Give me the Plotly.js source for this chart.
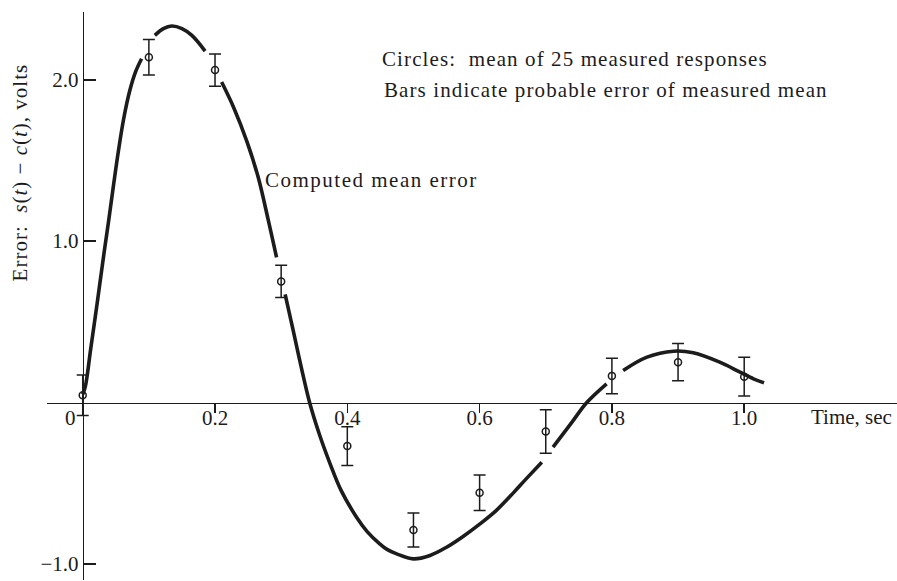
<!DOCTYPE html>
<html>
<head>
<meta charset="utf-8">
<script src="https://cdn.plot.ly/plotly-3.0.1.min.js"></script>
<style>
  html, body { margin: 0; padding: 0; background: #fff; }
  #chart { width: 897px; height: 581px; }
</style>
</head>
<body>
<div id="chart"></div>
<script>
// Computed mean error curve (null = break in the drawn line)
const curveT = [0, 0.004, 0.012, 0.022, 0.032, 0.04, 0.047, 0.054, 0.062, 0.071, 0.08, 0.089, null,
  0.109, 0.122, 0.1345, 0.15, 0.165, 0.185, null,
  0.21, 0.228, 0.248, 0.265, 0.28, 0.293, null,
  0.306, 0.318, 0.33, 0.343, 0.358, 0.374, 0.39, 0.414, 0.43, 0.449, 0.46, 0.4747, 0.4998, 0.525, 0.55,
  0.575, 0.6006, 0.625, 0.651, 0.67, 0.694, null,
  0.711, 0.74, 0.762, 0.792, null,
  0.817, 0.853, 0.893, 0.923, 0.963, 0.9937, 1.014, 1.03];
const curveV = [0.05, 0.10, 0.33, 0.62, 0.92, 1.15, 1.36, 1.56, 1.76, 1.93, 2.05, 2.13, null,
  2.275, 2.317, 2.333, 2.317, 2.275, 2.178, null,
  1.986, 1.83, 1.62, 1.40, 1.14, 0.90, null,
  0.67, 0.45, 0.225, 0, -0.2, -0.38, -0.54, -0.711, -0.80, -0.876, -0.91, -0.938, -0.969, -0.948, -0.897,
  -0.83, -0.752, -0.67, -0.56, -0.475, -0.37, null,
  -0.277, -0.12, 0, 0.116, null,
  0.198, 0.281, 0.318, 0.308, 0.25, 0.188, 0.147, 0.122];

// Measured means (25 responses) and probable error of each mean
const measT = [0, 0.1, 0.2, 0.3, 0.4, 0.5, 0.6, 0.7, 0.8, 0.9, 1.0];
const measV = [0.045, 2.14, 2.06, 0.75, -0.27, -0.79, -0.56, -0.18, 0.165, 0.25, 0.16];
const measErr = [0.125, 0.11, 0.10, 0.10, 0.12, 0.105, 0.11, 0.135, 0.11, 0.115, 0.12];

// Axis ticks
const xTickVals = [0.2, 0.4, 0.6, 0.8, 1.0];
const xTickText = ['0.2', '0.4', '0.6', '0.8', '1.0'];
const yTickVals = [-1, 1, 2];
const yTickText = ['\u22121.0', '1.0', '2.0'];

const ink = '#1c1c1c';
const serif = 'Liberation Serif, Times New Roman, serif';
const xRange = [-0.054, 1.231];
const yRange = [-1.10, 2.42];
const xAxisPos = (0 - yRange[0]) / (yRange[1] - yRange[0]);
const yAxisPos = (0 - xRange[0]) / (xRange[1] - xRange[0]);

function spaced(txt, px) {
  return '<span style="letter-spacing:' + px + 'px">' + txt + '</span>';
}

const traces = [
  {
    x: curveT, y: curveV, type: 'scatter', mode: 'lines',
    connectgaps: false,
    line: { color: ink, width: 3.6, shape: 'spline', smoothing: 1 },
    hoverinfo: 'skip'
  },
  {
    x: measT, y: measV, xaxis: 'x2', type: 'scatter', mode: 'markers',
    marker: { symbol: 'circle-open', size: 7, color: ink, line: { color: ink, width: 1.5 } },
    error_y: { type: 'data', array: measErr, visible: true, color: ink, thickness: 1.5, width: 6 }
  }
];

const tickFont = { family: serif, size: 21, color: ink };

const layout = {
  width: 897, height: 581,
  margin: { l: 47, r: 0, t: 12, b: 1 },
  paper_bgcolor: '#fff', plot_bgcolor: '#fff',
  showlegend: false,
  font: { family: serif, size: 21, color: ink },
  // horizontal axis: line and tick marks through y = 0
  xaxis: {
    range: xRange, anchor: 'free', position: xAxisPos,
    showgrid: false, zeroline: false,
    showline: true, linecolor: ink, linewidth: 1.5,
    tickvals: xTickVals, ticks: 'outside', ticklen: 9, tickwidth: 1.5, tickcolor: ink,
    showticklabels: false
  },
  // same scale, carries the tick labels set close under the line
  xaxis2: {
    range: xRange, overlaying: 'x', anchor: 'free', position: xAxisPos,
    showgrid: false, zeroline: false, showline: false,
    tickvals: xTickVals, ticktext: xTickText, ticks: '',
    tickfont: tickFont
  },
  yaxis: {
    range: yRange, anchor: 'free', position: yAxisPos,
    showgrid: false, zeroline: false,
    showline: true, linecolor: ink, linewidth: 1.5,
    tickvals: yTickVals, ticktext: yTickText,
    ticks: 'inside', ticklen: 12, tickwidth: 1.5, tickcolor: ink,
    tickfont: tickFont
  },
  annotations: [
    { xref: 'x', yref: 'y', x: 0, y: 0, xanchor: 'right', yanchor: 'middle',
      xshift: -5, yshift: -15, text: '0', showarrow: false, font: tickFont },
    { xref: 'paper', yref: 'y', x: 0, y: 1.426, xshift: -27, xanchor: 'center', yanchor: 'middle',
      textangle: -90, showarrow: false,
      text: spaced('Error:  <i>s</i>(<i>t</i>) \u2212 <i>c</i>(<i>t</i>), volts', 1.0) },
    { xref: 'x', yref: 'y', x: 0.4495, y: 2.127, xanchor: 'left', yanchor: 'middle', showarrow: false,
      text: spaced('Circles:  mean of 25 measured responses', 1.1) },
    { xref: 'x', yref: 'y', x: 0.452, y: 1.936, xanchor: 'left', yanchor: 'middle', showarrow: false,
      text: spaced('Bars indicate probable error of measured mean', 1.1) },
    { xref: 'x', yref: 'y', x: 0.2726, y: 1.376, xanchor: 'left', yanchor: 'middle', showarrow: false,
      text: spaced('Computed mean error', 1.5) },
    { xref: 'x', yref: 'y', x: 1.098, y: -0.087, xanchor: 'left', yanchor: 'middle', showarrow: false,
      text: 'Time, sec' }
  ]
};

Plotly.newPlot('chart', traces, layout, { displayModeBar: false, staticPlot: true });
</script>
</body>
</html>
